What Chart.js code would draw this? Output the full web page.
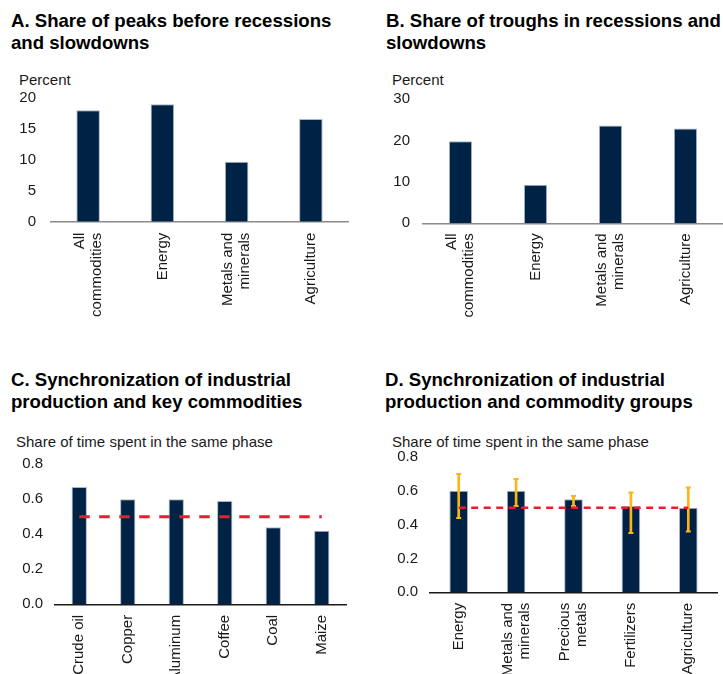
<!DOCTYPE html>
<html>
<head>
<meta charset="utf-8">
<script src="https://cdn.jsdelivr.net/npm/chart.js@4/dist/chart.umd.min.js"></script>
<style>
  html, body { margin:0; padding:0; background:#fff; }
  body { width:723px; height:674px; position:relative; overflow:hidden; font-family:"Liberation Sans", Arial, sans-serif; }
  .title { position:absolute; font-weight:bold; font-size:18.6px; line-height:22px; color:#000; white-space:nowrap; }
  .unit { position:absolute; font-size:15px; line-height:15px; color:#1a1a1a; white-space:nowrap; }
  canvas { position:absolute; }
</style>
</head>
<body>
<div class="title" style="left:11px; top:10px;">A. Share of peaks before recessions<br>and slowdowns</div>
<div class="title" style="left:386px; top:10px;">B. Share of troughs in recessions and<br>slowdowns</div>
<div class="title" style="left:11px; top:369px;">C. Synchronization of industrial<br>production and key commodities</div>
<div class="title" style="left:385px; top:369px;">D. Synchronization of industrial<br>production and commodity groups</div>
<div class="unit" style="left:19px; top:72px;">Percent</div>
<div class="unit" style="left:392px; top:72px;">Percent</div>
<div class="unit" style="left:16px; top:434px;">Share of time spent in the same phase</div>
<div class="unit" style="left:392px; top:434px;">Share of time spent in the same phase</div>
<canvas id="cA" width="360" height="300" style="left:0px; top:60px;"></canvas>
<canvas id="cB" width="363" height="300" style="left:360px; top:60px;"></canvas>
<canvas id="cC" width="360" height="224" style="left:0px; top:450px;"></canvas>
<canvas id="cD" width="363" height="224" style="left:360px; top:450px;"></canvas>
<script>
// ---- data ----
const commodityCategories = [['All', 'commodities'], 'Energy', ['Metals and', 'minerals'], 'Agriculture'];
const peaksShare = [18.0, 19.0, 9.7, 16.6];
const troughsShare = [19.8, 9.3, 23.6, 22.9];
const percentTicksA = [0, 5, 10, 15, 20];
const percentTicksB = [0, 10, 20, 30];

const keyCommodities = ['Crude oil', 'Copper', 'Aluminum', 'Coffee', 'Coal', 'Maize'];
const keySync = [0.67, 0.60, 0.60, 0.59, 0.44, 0.42];
const keyThreshold = [0.5, 0.5, 0.5, 0.5, 0.5, 0.5];

const commodityGroups = ['Energy', ['Metals and', 'minerals'], ['Precious', 'metals'], 'Fertilizers', 'Agriculture'];
const groupSync = [0.60, 0.60, 0.55, 0.51, 0.50];
const groupLow = [0.44, 0.51, 0.51, 0.35, 0.36];
const groupHigh = [0.70, 0.67, 0.57, 0.59, 0.62];
const groupThreshold = [0.5, 0.5, 0.5, 0.5, 0.5];

const shareTickValues = [0, 0.2, 0.4, 0.6, 0.8];
const shareTickLabels = ['0.0', '0.2', '0.4', '0.6', '0.8'];

// ---- styling ----
const FONT = '"Liberation Sans", Arial, sans-serif';
const NAVY = '#002345';
const BAR_EDGE = '#a9b6c8';
const RED = '#EB1C2D';
const ORANGE = '#FDB515';
const HALF = 8.5; // half of the line spacing of category labels

function padLabel(lab) {
  // Category labels are rendered with half line spacing so that one- and two-line
  // labels are both centred on their category.
  return Array.isArray(lab) ? ['', lab[0], '', lab[1]] : ['', '', lab];
}

function makeChart(id, geo, cats, datasets, yVals, yLabels, style) {
  const el = document.getElementById(id);
  return new Chart(el, {
    type: 'bar',
    data: { labels: cats.map(c => Array.isArray(c) ? c.join(' ') : c), datasets },
    options: {
      responsive: false,
      animation: false,
      devicePixelRatio: 1,
      layout: { padding: { top: geo.pt - geo.top, left: 0, right: geo.left + geo.w - geo.pr, bottom: 0 } },
      plugins: { legend: { display: false }, tooltip: { enabled: false } },
      scales: {
        x: {
          grid: { display: false, drawTicks: false },
          border: { display: true, color: style.axis, width: 1.5 },
          ticks: {
            autoSkip: false, minRotation: 90, maxRotation: 90,
            padding: style.xPad, labelOffset: -2 * HALF, color: '#1a1a1a',
            font: { family: FONT, size: 15, lineHeight: HALF + 'px' },
            callback: (v, i) => padLabel(cats[i])
          },
          afterFit: s => { s.height = geo.top + geo.h - geo.pb; s.paddingLeft = 0; s.paddingRight = 0; }
        },
        y: {
          min: yVals[0], max: yVals[yVals.length - 1],
          grid: { display: false, drawTicks: false },
          border: { display: false },
          ticks: {
            stepSize: yVals[1] - yVals[0], padding: style.yPad, color: '#1a1a1a',
            font: { family: FONT, size: 15 },
            callback: (v, i) => yLabels[i]
          },
          afterFit: s => { s.width = geo.pl - geo.left; s.paddingTop = 0; s.paddingBottom = 0; }
        }
      }
    }
  });
}

function mainBars(values, pct) {
  return {
    type: 'bar', data: values, backgroundColor: NAVY, borderColor: BAR_EDGE, borderWidth: 1,
    barPercentage: pct, categoryPercentage: 1, grouped: false, order: 5
  };
}
function dashedLine(values, width, dash) {
  return {
    type: 'line', data: values, borderColor: RED, borderWidth: width, borderDash: dash,
    borderCapStyle: 'butt', pointRadius: 0, fill: false, order: 0
  };
}

// Panel A
makeChart('cA', { left: 0, top: 60, w: 360, h: 300, pl: 51, pr: 348, pt: 98, pb: 221.7 },
  commodityCategories, [mainBars(peaksShare, 0.317)],
  percentTicksA, percentTicksA.map(String), { axis: '#8a8a8a', xPad: 11, yPad: 15 });

// Panel B
makeChart('cB', { left: 360, top: 60, w: 363, h: 300, pl: 423, pr: 723, pt: 99, pb: 223.3 },
  commodityCategories, [mainBars(troughsShare, 0.31)],
  percentTicksB, percentTicksB.map(String), { axis: '#8a8a8a', xPad: 10, yPad: 13 });

// Panel C
makeChart('cC', { left: 0, top: 450, w: 360, h: 224, pl: 55, pr: 346, pt: 464.3, pb: 604.3 },
  keyCommodities, [dashedLine(keyThreshold, 3, [10.5, 9.5]), mainBars(keySync, 0.316)],
  shareTickValues, shareTickLabels, { axis: '#1a1a1a', xPad: 10.5, yPad: 12 });

// Panel D
makeChart('cD', { left: 360, top: 450, w: 363, h: 224, pl: 430, pr: 722, pt: 457, pb: 592.3 },
  commodityGroups, [
    dashedLine(groupThreshold, 2.5, [7, 5.5]),
    { type: 'line', data: groupHigh, showLine: false, pointStyle: 'line', pointRadius: 2.5,
      pointBorderWidth: 2, pointBorderColor: ORANGE, pointBackgroundColor: ORANGE, order: 1 },
    { type: 'line', data: groupLow, showLine: false, pointStyle: 'line', pointRadius: 2.5,
      pointBorderWidth: 2, pointBorderColor: ORANGE, pointBackgroundColor: ORANGE, order: 2 },
    { type: 'bar', data: groupLow.map((lo, i) => [lo, groupHigh[i]]), backgroundColor: ORANGE,
      barThickness: 2, grouped: false, order: 3 },
    mainBars(groupSync, 0.325)
  ],
  shareTickValues, shareTickLabels, { axis: '#1a1a1a', xPad: 10.5, yPad: 12 });
</script>
</body>
</html>
